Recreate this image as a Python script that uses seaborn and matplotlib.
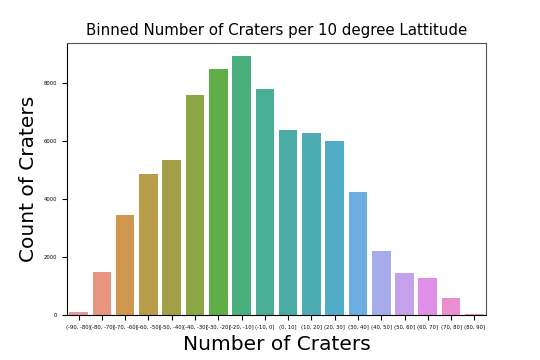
import pandas as pd
import matplotlib.pyplot as plt
import seaborn as sns

bins = ["(-90, -80]", "(-80, -70]", "(-70, -60]", "(-60, -50]", "(-50, -40]",
        "(-40, -30]", "(-30, -20]", "(-20, -10]", "(-10, 0]", "(0, 10]",
        "(10, 20]", "(20, 30]", "(30, 40]", "(40, 50]", "(50, 60]",
        "(60, 70]", "(70, 80]", "(80, 90]"]
counts = [90, 1485, 3450, 4860, 5345, 7565, 8460, 8920, 7780, 6390,
          6285, 5990, 4255, 2220, 1440, 1275, 600, 20]

df = pd.DataFrame({"lat": bins, "n": counts})

fig = plt.figure(figsize=(5.4, 3.6), dpi=100)
ax = fig.add_axes([0.124, 0.125, 0.776, 0.755])
sns.barplot(data=df, x="lat", y="n", hue="lat", palette=sns.husl_palette(len(bins), l=.7),
            legend=False, ax=ax)
ax.tick_params(axis="both", labelsize=3.8, length=3.5)
ax.set_title("Binned Number of Craters per 10 degree Lattitude", fontsize=10.8)
ax.set_xlabel("Number of Craters", fontsize=14.5)
ax.set_ylabel("Count of Craters", fontsize=14.5)
for s in ["top", "right"]:
    ax.spines[s].set_color("#555555")
plt.savefig("out.png", dpi=100)
